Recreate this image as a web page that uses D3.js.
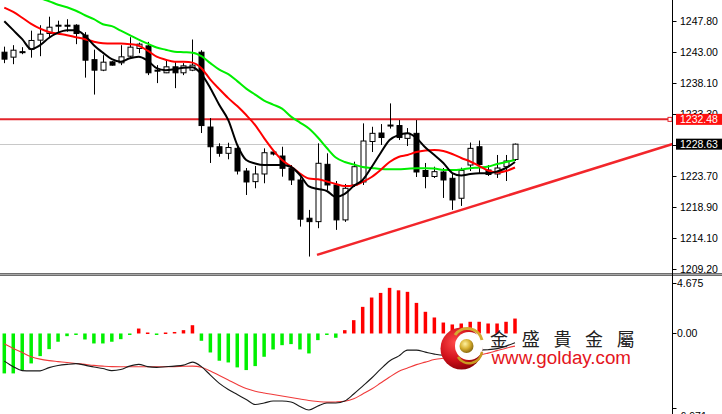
<!DOCTYPE html>
<html><head><meta charset="utf-8">
<script src="https://cdn.jsdelivr.net/npm/d3@7"></script>
<style>html,body{margin:0;padding:0;background:#fff;overflow:hidden}svg{display:block}</style>
</head><body><svg id="c" width="722" height="414"></svg>
<script>
// ---- data ----
const openP=[1242.91,1242.14,1242.99,1243.38,1244.78,1245.81,1247.02,1247.10,1247.10,1245.55,1241.75,1240.12,1241.41,1241.26,1242.29,1243.49,1243.89,1240.12,1239.71,1240.64,1239.71,1240.12,1242.91,1231.29,1228.23,1227.21,1227.98,1224.46,1222.81,1224.00,1227.41,1226.79,1224.88,1223.07,1217.13,1216.60,1225.50,1222.29,1216.87,1222.29,1222.76,1229.04,1230.36,1231.60,1231.52,1229.53,1230.31,1224.54,1223.61,1224.31,1223.33,1220.23,1225.39,1228.23,1224.62,1224.00,1225.13,1226.25];
const highP=[1243.77,1244.00,1243.69,1246.25,1247.10,1248.42,1247.80,1248.03,1247.25,1246.02,1243.30,1242.45,1241.52,1244.00,1245.24,1244.39,1244.51,1240.90,1241.67,1241.36,1241.21,1244.88,1243.22,1232.68,1228.76,1228.85,1228.34,1224.93,1225.24,1227.98,1227.72,1228.23,1225.39,1223.49,1218.42,1228.76,1227.21,1222.91,1222.45,1225.91,1231.86,1231.33,1231.75,1234.96,1232.37,1231.13,1232.37,1225.71,1225.13,1224.93,1224.00,1224.98,1228.88,1229.19,1225.39,1226.95,1226.95,1228.73];
const lowP=[1241.21,1241.05,1242.60,1242.06,1242.29,1245.09,1246.02,1246.09,1244.16,1238.96,1236.33,1239.97,1240.82,1240.90,1242.14,1242.76,1239.35,1238.11,1239.66,1237.33,1239.35,1239.97,1230.36,1225.71,1226.68,1226.28,1223.92,1220.74,1221.78,1222.56,1226.87,1223.58,1222.29,1215.83,1211.18,1215.58,1221.52,1215.32,1216.56,1221.98,1222.29,1227.41,1228.50,1231.05,1229.27,1228.34,1223.53,1221.78,1223.38,1220.28,1218.42,1219.04,1224.46,1224.00,1223.69,1223.38,1222.91,1226.02];
const closeP=[1241.83,1243.22,1242.91,1244.73,1245.71,1246.79,1247.10,1247.02,1245.81,1241.67,1240.12,1241.36,1240.90,1242.19,1243.69,1244.16,1239.71,1240.05,1240.64,1239.71,1240.79,1240.90,1231.52,1228.23,1227.21,1228.11,1224.46,1222.76,1224.00,1227.30,1227.10,1224.88,1223.07,1216.98,1216.60,1225.66,1222.29,1216.87,1221.78,1225.13,1229.12,1230.31,1229.66,1231.52,1229.66,1230.31,1224.31,1223.61,1224.36,1223.07,1219.97,1224.54,1227.98,1225.47,1223.92,1224.93,1226.02,1228.63];

const maFast=[1247.72,1246.33,1244.93,1243.38,1244.00,1245.16,1245.94,1246.33,1246.33,1245.47,1244.00,1242.84,1241.83,1241.44,1241.98,1242.22,1241.60,1240.43,1240.12,1240.28,1240.51,1240.59,1239.50,1237.33,1234.70,1232.37,1228.50,1226.17,1225.63,1225.39,1225.39,1225.39,1225.08,1223.84,1222.06,1221.67,1221.36,1220.43,1220.90,1222.14,1223.07,1225.08,1227.26,1229.27,1230.05,1230.31,1229.58,1228.11,1226.95,1225.71,1224.15,1223.77,1224.00,1224.11,1224.11,1224.39,1224.93,1225.86];
const maMid=[1249.84,1249.16,1248.26,1247.30,1246.56,1246.05,1245.78,1245.55,1245.24,1244.93,1244.54,1244.31,1244.26,1244.26,1244.16,1243.92,1243.15,1242.22,1241.75,1241.44,1241.41,1241.29,1240.43,1238.65,1237.18,1235.78,1234.54,1233.15,1231.60,1229.58,1227.72,1226.17,1225.16,1224.08,1223.30,1223.18,1222.84,1222.45,1222.14,1222.22,1222.76,1223.53,1224.62,1225.86,1226.64,1226.95,1227.41,1227.64,1227.72,1227.57,1227.10,1226.48,1225.94,1225.24,1224.54,1224.23,1224.46,1225.01];
const maSlow=[1253.15,1252.68,1252.22,1251.83,1251.29,1250.82,1250.28,1249.89,1249.35,1248.65,1248.03,1247.25,1246.95,1246.25,1245.55,1244.85,1244.23,1243.64,1243.30,1242.99,1242.91,1242.84,1242.29,1241.21,1240.20,1239.50,1238.42,1237.26,1236.33,1235.40,1234.78,1234.15,1232.91,1231.98,1231.05,1229.66,1228.03,1226.56,1225.86,1225.47,1225.08,1224.93,1224.78,1224.75,1224.75,1224.82,1224.88,1224.88,1224.85,1224.62,1224.62,1224.70,1224.88,1225.01,1225.16,1225.55,1225.86,1226.17];

const macdHist=[-3.72,-3.72,-3.41,-2.79,-2.11,-1.46,-0.77,-0.25,-0.09,-0.56,-0.93,-0.93,-0.77,-0.53,-0.05,0.46,0.09,-0.06,0.09,0.14,0.31,0.77,-0.68,-1.77,-2.54,-2.70,-3.16,-3.41,-3.04,-2.17,-1.49,-1.09,-0.99,-1.49,-1.86,-0.62,-0.05,-0.40,0.31,1.24,2.48,3.35,3.78,4.25,4.02,3.88,2.85,2.02,1.49,1.02,0.84,0.93,1.09,1.09,0.93,0.93,1.09,1.39];
const macdLine=[-2.57,-3.09,-3.46,-3.48,-3.48,-3.18,-2.99,-2.88,-2.81,-2.95,-3.13,-3.27,-3.46,-3.36,-3.04,-2.88,-3.09,-3.16,-3.10,-3.04,-2.95,-2.67,-3.09,-3.88,-4.65,-5.22,-5.69,-6.15,-6.62,-6.48,-6.29,-6.29,-6.38,-6.80,-7.13,-6.76,-6.48,-6.48,-6.29,-5.64,-4.90,-4.15,-3.32,-2.57,-2.11,-1.55,-1.55,-1.74,-1.92,-2.02,-2.02,-1.92,-1.74,-1.55,-1.51,-1.41,-1.18,-0.86];
const macdSignal=[-0.95,-1.39,-1.78,-2.16,-2.39,-2.53,-2.62,-2.71,-2.79,-2.88,-2.97,-3.04,-3.09,-3.10,-3.10,-3.10,-3.10,-3.10,-3.10,-3.09,-3.06,-3.04,-3.15,-3.49,-3.92,-4.34,-4.76,-5.13,-5.38,-5.55,-5.69,-5.83,-5.97,-6.11,-6.25,-6.34,-6.40,-6.38,-6.32,-6.09,-5.64,-5.18,-4.62,-4.06,-3.55,-3.22,-2.90,-2.67,-2.43,-2.31,-2.23,-2.16,-2.08,-2.02,-1.83,-1.60,-1.37,-1.18];

const priceTicks=["1247.80","1243.00","1238.10","1233.30","1228.50","1223.70","1218.90","1214.10","1209.20"];
const macdTicks=["4.675","0.00","-6.971"];
const resistance=1232.48;
const lastPrice=1228.63;
const trendIdx=[34.9,74.6];
const trendPrice=[1211.44,1228.65];
const brandCn="金盛貴金屬";
const brandUrl="www.golday.com";

// ---- drawing ----
const svg=d3.select('#c');
const AX=672.5;
const x=d3.scaleLinear().domain([0,57]).range([4.3,515.0]);
const y=d3.scaleLinear().domain([1209.20,1247.80]).range([269.3,20.7]);
const ym=d3.scaleLinear().domain([-6.971,4.675]).range([408.3,283.3]);
const defs=svg.append('defs');
defs.append('clipPath').attr('id','pc').append('rect').attr('x',0).attr('y',0).attr('width',AX).attr('height',272);
defs.append('clipPath').attr('id','mc').append('rect').attr('x',0).attr('y',277).attr('width',AX).attr('height',140);

svg.append('rect').attr('width',722).attr('height',414).attr('fill','#fff');

const gp=svg.append('g').attr('clip-path','url(#pc)');
gp.append('line').attr('x1',0).attr('x2',AX).attr('y1',Math.round(y(lastPrice))+0.5).attr('y2',Math.round(y(lastPrice))+0.5)
  .attr('stroke','#c8c8c8').attr('stroke-width',1);
gp.append('line').attr('x1',0).attr('x2',AX-3).attr('y1',y(resistance)).attr('y2',y(resistance))
  .attr('stroke','#e3242b').attr('stroke-width',2);

const idx=d3.range(openP.length);
const cx=i=>Math.round(x(i))+0.5;
gp.selectAll('line.wick').data(idx).enter().append('line').attr('class','wick')
  .attr('x1',cx).attr('x2',cx).attr('y1',i=>y(highP[i])).attr('y2',i=>y(lowP[i]))
  .attr('stroke','#000').attr('stroke-width',1);
gp.selectAll('rect.body').data(idx).enter().append('rect').attr('class','body')
  .attr('x',i=>cx(i)-2.5).attr('width',5)
  .attr('y',i=>Math.min(y(openP[i]),y(closeP[i])))
  .attr('height',i=>Math.max(1,Math.abs(y(openP[i])-y(closeP[i]))))
  .attr('fill',i=>closeP[i]>=openP[i]?'#fff':'#000')
  .attr('stroke','#000').attr('stroke-width',1);

const ln=d3.line().x((d,i)=>x(i)).y(d=>y(d)).curve(d3.curveMonotoneX);
gp.append('path').attr('d',ln(maSlow)).attr('fill','none').attr('stroke','#00ee00').attr('stroke-width',2);
gp.append('path').attr('d',ln(maMid)).attr('fill','none').attr('stroke','#ff0000').attr('stroke-width',2);
gp.append('path').attr('d',ln(maFast)).attr('fill','none').attr('stroke','#000').attr('stroke-width',2);

gp.append('line').attr('x1',x(trendIdx[0])).attr('y1',y(trendPrice[0])).attr('x2',x(trendIdx[1])).attr('y2',y(trendPrice[1]))
  .attr('stroke','#f2262b').attr('stroke-width',2.5);
svg.append('rect').attr('x',AX-4.5).attr('y',y(resistance)-2).attr('width',4).attr('height',4)
  .attr('fill','#fff').attr('stroke','#e3242b').attr('stroke-width',1);

// separator
svg.append('rect').attr('x',0).attr('y',273).attr('width',722).attr('height',3).attr('fill','#6e6e6e');
svg.append('line').attr('x1',0).attr('x2',722).attr('y1',274.5).attr('y2',274.5).attr('stroke','#a8a8a8').attr('stroke-width',1);

// MACD panel
const gm=svg.append('g').attr('clip-path','url(#mc)');
gm.selectAll('rect.h').data(idx).enter().append('rect').attr('class','h')
  .attr('x',i=>x(i)-1.75).attr('width',3.5)
  .attr('y',i=>Math.min(ym(macdHist[i]),ym(0)))
  .attr('height',i=>Math.max(1.5,Math.abs(ym(macdHist[i])-ym(0))))
  .attr('fill',i=>macdHist[i]>=0?'#ff0000':'#00f000');
const lm=d3.line().x((d,i)=>x(i)).y(d=>ym(d)).curve(d3.curveMonotoneX);
gm.append('path').attr('d',lm(macdSignal)).attr('fill','none').attr('stroke','#f03a3a').attr('stroke-width',1.1);
gm.append('path').attr('d',lm(macdLine)).attr('fill','none').attr('stroke','#1a1a1a').attr('stroke-width',1.1);

// axis
svg.append('line').attr('x1',AX).attr('x2',AX).attr('y1',0).attr('y2',414).attr('stroke','#000').attr('stroke-width',1);
const font="'Liberation Sans', Arial, sans-serif";
const ga=svg.append('g');
priceTicks.forEach(t=>{
  const yy=Math.round(y(+t))+0.5;
  ga.append('line').attr('x1',AX).attr('x2',AX+4).attr('y1',yy).attr('y2',yy).attr('stroke','#000');
  ga.append('text').attr('x',680).attr('y',yy).attr('dy','0.36em').attr('font-family',font).attr('font-size',10.5)
    .attr('fill','#000').text(t);
});
macdTicks.forEach((t,k)=>{
  const yy=Math.round(ym(+t))+0.5;
  ga.append('line').attr('x1',AX).attr('x2',AX+4).attr('y1',yy).attr('y2',yy).attr('stroke','#000');
  // the lowest label sits against the bottom edge, partly cut off as in the reference
  const ty=k===macdTicks.length-1?yy+8:yy;
  ga.append('text').attr('x',677).attr('y',ty).attr('dy','0.36em').attr('font-family',font).attr('font-size',10.5)
    .attr('fill','#000').text(t);
});
function tag(v,bg){
  const yy=y(v);
  ga.append('rect').attr('x',676).attr('y',yy-5.5).attr('width',46).attr('height',11).attr('fill',bg);
  ga.append('text').attr('x',680).attr('y',yy).attr('dy','0.36em').attr('font-family',font).attr('font-size',10.5)
    .attr('fill','#fff').text(v.toFixed(2));
}
tag(resistance,'#ff1010');
tag(lastPrice,'#000');

// watermark logo
const lg=defs.append('radialGradient').attr('id','rg').attr('cx','35%').attr('cy','35%').attr('r','70%');
lg.append('stop').attr('offset','0%').attr('stop-color','#ff4a4a');
lg.append('stop').attr('offset','60%').attr('stop-color','#d0101a');
lg.append('stop').attr('offset','100%').attr('stop-color','#8a0008');
const gg=defs.append('radialGradient').attr('id','gg').attr('cx','40%').attr('cy','35%').attr('r','65%');
gg.append('stop').attr('offset','0%').attr('stop-color','#fff2a0');
gg.append('stop').attr('offset','55%').attr('stop-color','#d8b030');
gg.append('stop').attr('offset','100%').attr('stop-color','#8a6a10');
const wm=svg.append('g');
wm.append('circle').attr('cx',461.5).attr('cy',348.5).attr('r',21).attr('fill','url(#rg)');
wm.append('circle').attr('cx',469).attr('cy',346).attr('r',14).attr('fill','#fff');
wm.append('path').attr('d','M 455 335 A 15 15 0 0 1 482 340').attr('fill','none').attr('stroke','#d4aa30').attr('stroke-width',3);
wm.append('path').attr('d','M 458 357 A 13 13 0 0 0 482 352').attr('fill','none').attr('stroke','#c89a20').attr('stroke-width',2.5);
wm.append('circle').attr('cx',466.5).attr('cy',346).attr('r',7).attr('fill','url(#gg)');
wm.append('text').attr('x',490).attr('y',346).attr('font-family',"'Noto Sans CJK TC','Noto Sans CJK SC',sans-serif")
  .attr('font-size',18).attr('letter-spacing',13.7).attr('fill','#222').text(brandCn);
wm.append('text').attr('x',491.5).attr('y',364).attr('font-family',font).attr('font-size',18.8)
  .attr('fill','#e41420').text(brandUrl);
</script></body></html>
